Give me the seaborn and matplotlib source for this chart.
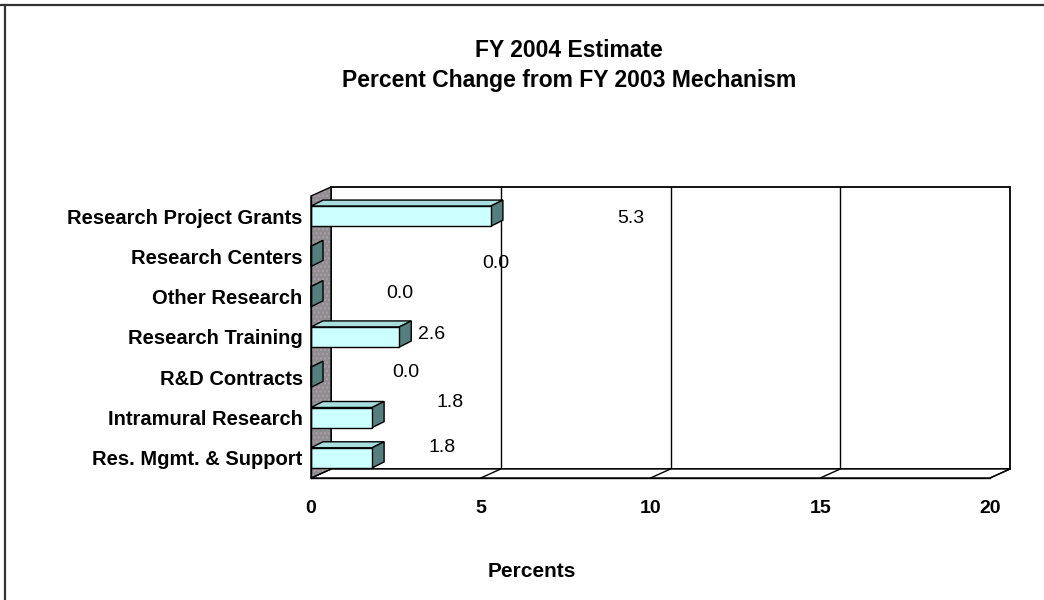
import numpy as np
import pandas as pd
import matplotlib
matplotlib.use("Agg")
import matplotlib.pyplot as plt
import seaborn as sns
from matplotlib.patches import Polygon
from matplotlib.lines import Line2D

# ---- data -------------------------------------------------------------
categories = ["Research Project Grants", "Research Centers", "Other Research",
              "Research Training", "R&D Contracts", "Intramural Research",
              "Res. Mgmt. & Support"]
values = [5.3, 0.0, 0.0, 2.6, 0.0, 1.8, 1.8]
x_ticks = [0, 5, 10, 15, 20]

# where each value label sits (x in percent units, y shift in category units)
label_x = [9.43, 5.44, 2.63, 3.55, 2.78, 4.11, 3.87]
label_dy = [0.07, 0.17, -0.07, -0.05, -0.12, -0.37, -0.25]

title_1 = "FY 2004 Estimate"
title_2 = "Percent Change from FY 2003 Mechanism"
x_title = "Percents"

# ---- style ------------------------------------------------------------
sns.set_theme(style="white")
plt.rcParams["font.family"] = ["Liberation Sans", "DejaVu Sans"]
plt.rcParams.update({"text.color": "black", "axes.labelcolor": "black",
                     "xtick.color": "black", "ytick.color": "black"})

W, H = 1044, 600
fig = plt.figure(figsize=(W / 100, H / 100), dpi=100)
fig.patch.set_facecolor("white")

# front plane of the 3-D plot area, in pixels
L, R, T, B = 311, 990, 196, 478
ax = fig.add_axes([L / W, 1 - B / H, (R - L) / W, (B - T) / H])
ax.set_facecolor("none")

df = pd.DataFrame({"category": categories, "value": values})
sns.barplot(data=df, x="value", y="category", orient="h", color="#ccffff",
            saturation=1, edgecolor="black", linewidth=1.0, width=0.5, ax=ax)
bars = list(ax.patches)

ax.set_xlim(0, 20)
ax.set_ylim(6.5, -0.5)

# pixel -> data scale, for the depth offsets of the 3-D look
px_x = (R - L) / 20.0
px_y = (B - T) / 7.0
wd_x, wd_y = 20 / px_x, 9 / px_y      # depth of walls / floor
bd_x, bd_y = 12 / px_x, 6 / px_y      # depth of each bar

y_top, y_bot = -0.5, 6.5

# back wall
ax.add_patch(Polygon([(wd_x, y_top - wd_y), (20 + wd_x, y_top - wd_y),
                      (20 + wd_x, y_bot - wd_y), (wd_x, y_bot - wd_y)],
                     closed=True, facecolor="white", edgecolor="black",
                     linewidth=1.3, clip_on=False, zorder=0.2))
for xv in x_ticks[1:-1]:
    ax.add_line(Line2D([xv + wd_x, xv + wd_x], [y_top - wd_y, y_bot - wd_y],
                       color="black", linewidth=1.0, clip_on=False, zorder=0.3))

# floor
ax.add_patch(Polygon([(0, y_bot), (wd_x, y_bot - wd_y), (20 + wd_x, y_bot - wd_y),
                      (20, y_bot)], closed=True, facecolor="white",
                     edgecolor="black", linewidth=1.0, clip_on=False, zorder=0.4))
for xv in x_ticks:
    ax.add_line(Line2D([xv, xv + wd_x], [y_bot, y_bot - wd_y], color="black",
                       linewidth=1.0, clip_on=False, zorder=0.5))

# side wall (stippled grey)
side = [(0, y_top), (wd_x, y_top - wd_y), (wd_x, y_bot - wd_y), (0, y_bot)]
ax.add_patch(Polygon(side, closed=True, facecolor="#8e8e8e", edgecolor="#b09cb0",
                     hatch="....", linewidth=0, clip_on=False, zorder=0.6))
ax.add_patch(Polygon(side, closed=True, facecolor="none", edgecolor="black",
                     linewidth=1.0, clip_on=False, zorder=0.7))

# bar tops and ends
for p in bars:
    x0, w = p.get_x(), p.get_width()
    y0, h = p.get_y(), p.get_height()
    top = [(x0, y0), (x0 + bd_x, y0 - bd_y), (x0 + w + bd_x, y0 - bd_y), (x0 + w, y0)]
    end = [(x0 + w, y0), (x0 + w + bd_x, y0 - bd_y),
           (x0 + w + bd_x, y0 + h - bd_y), (x0 + w, y0 + h)]
    ax.add_patch(Polygon(top, closed=True, facecolor="#a9dede", edgecolor="black",
                         linewidth=1.0, clip_on=False, zorder=2.8))
    ax.add_patch(Polygon(end, closed=True, facecolor="#557f7f", edgecolor="black",
                         linewidth=1.0, clip_on=False, zorder=2.9))
    p.set_zorder(3)

# value labels
for i, v in enumerate(values):
    ax.text(label_x[i], i + label_dy[i], f"{v:.1f}", ha="center", va="center",
            fontsize=14, color="black", zorder=4)

# axes lines and ticks
for s in ("top", "right"):
    ax.spines[s].set_visible(False)
for s in ("left", "bottom"):
    ax.spines[s].set_color("black")
    ax.spines[s].set_linewidth(1.0)
    ax.spines[s].set_zorder(5)

ax.set_xticks(x_ticks)
ax.set_xticklabels([str(t) for t in x_ticks], fontweight="bold", fontsize=14)
ax.set_yticks(range(len(categories)))
ax.set_yticklabels(categories, fontweight="bold", fontsize=14.5)
ax.set_yticks(np.arange(-0.5, 7.0, 1.0), minor=True)
ax.tick_params(axis="x", which="major", length=4, direction="out", width=1,
               color="black", pad=12)
ax.tick_params(axis="y", which="major", length=0, pad=6)
ax.tick_params(axis="y", which="minor", length=4, direction="out", width=1,
               color="black")
ax.set_xlabel("")
ax.set_ylabel("")

# titles
fig.text(569 / W, 1 - 57 / H, title_1, ha="center", va="baseline",
         fontsize=16.5, fontweight="bold")
fig.text(569 / W, 1 - 87 / H, title_2, ha="center", va="baseline",
         fontsize=16.5, fontweight="bold")
fig.text(532 / W, 1 - 577 / H, x_title, ha="center", va="baseline",
         fontsize=15, fontweight="bold")

# frame lines along top and left of the chart area
fig.add_artist(Line2D([0, 1], [1 - 5 / H, 1 - 5 / H], color="#333333",
                      linewidth=1.6, transform=fig.transFigure))
fig.add_artist(Line2D([5 / W, 5 / W], [0, 1 - 5 / H], color="#333333",
                      linewidth=1.6, transform=fig.transFigure))

fig.savefig("out.png", dpi=100, facecolor="white")
